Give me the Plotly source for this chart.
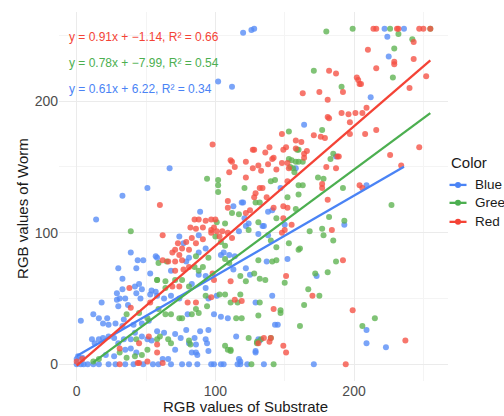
import plotly.graph_objects as go

# ---- data ----
red_x = [98,111,112,114,110,122,122,127,127,
         214,216,231,232,247,250,255,
         243,210,229,229,243,216,252,240,202,203,204,205,182,187,192,175,163,181,
         191,196,201,206,209,181,182,197,
         148,171,176,179,197,208,216,
         158,162,151,149,139,136,142,141,138,144,148,152,153,131,128,133,158,164,166,164,
         180,187,188,189,234,247,226,
         152,177,177,204,206,181,132,134,137,129,128,
         184,192,151,170,142,199,237,135,131,149,151,194,149,152,149,155,150,148,142,
         38,
         60,109,109,122,125,85,88,93,97,100,82,86,91,97,99,101,105,109,97,103,62,73,79,83,86,91,112,
         71,76,81,69,74,62,66,71,76,77,81,71,98,99,111,69,74,
         39,53,31,45,52,31,45,51,4,0,
         80,86,97,114,119,58,58,
         44,62,140,139]
red_y = [167,155,154,150,146,154,142,163,149,
         255,255,255,255,255,255,255,
         245,239,230,228,232,225,219,210,218,216,213,213,223,221,207,207,206,201,
         191,190,191,191,195,188,187,184,
         175,174,173,172,175,175,178,
         170,169,165,163,165,161,157,156,152,148,153,153,149,151,163,147,164,160,162,157,
         150,149,158,158,151,165,159,
         139,137,134,136,134,125,134,134,127,130,127,
         102,79,67,52,42,41,18,20,16,14,9,0,120,119,111,106,102,100,119,
         58,
         121,119,124,115,117,110,110,109,110,110,104,103,104,102,104,101,101,100,100,97,98,92,93,96,92,95,96,
         87,88,87,85,83,79,78,78,79,72,74,71,69,64,63,59,59,
         43,47,12,16,21,0,1,2,4,2,
         47,47,51,49,48,9,15,
         1,1,20,17]

green_x = [94,102,102,102,121,
           180,199,226,255,232,242,229,228,171,191,177,153,159,160,153,155,158,160,163,154,156,157,183,185,
           140,143,152,160,160,163,174,178,192,
           227,193,177,178,185,168,182,160,161,153,144,141,144,131,187,181,172,150,132,136,128,167,175,164,
           132,147,147,131,215,206,161,130,140,142,158,144,131,140,129,132,
           39,58,
           112,117,101,107,100,104,107,124,86,95,107,110,65,59,85,88,91,71,76,64,58,118,122,64,81,
           36,45,51,43,31,36,42,47,51,16,12,
           93,103,107,118,111,116,94,86,88,83,74,76,64,68,59,115,119,81,82,66,68,60,58,107,111,
           126,109,111,124,130,133]
green_y = [141,140,136,131,134,
           253,255,255,255,251,247,240,218,223,211,178,177,163,163,156,155,154,154,154,150,149,146,156,160,
           139,140,127,129,136,136,142,141,134,
           121,109,103,98,94,101,112,87,88,92,89,78,79,79,78,70,69,62,65,64,69,57,52,45,
           47,41,39,37,35,29,29,16,20,0,118,111,108,94,123,123,
           101,64,
           115,114,108,107,97,93,90,102,82,81,80,77,78,77,74,71,74,64,64,63,64,67,63,58,59,
           38,39,35,19,9,5,6,7,11,4,2,
           52,53,53,53,47,47,44,42,39,38,35,35,38,38,42,35,35,18,15,19,16,21,19,14,10,
           0,11,11,20,17,19]

blue_x = [120,126,102,112,67,51,33,
          128,222,236,224,225,212,164,158,187,147,209,
          193,152,137,173,141,129,209,209,223,143,145,131,132,129,135,171,138,141,150,134,135,131,138,
          14,39,44,48,30,43,53,33,57,45,42,33,47,54,
          89,113,119,120,121,124,74,77,88,117,122,88,93,104,106,110,114,68,58,79,81,88,93,113,122,125,83,93,
          3,18,29,31,35,30,29,37,43,46,53,57,12,16,22,19,23,28,34,33,41,47,52,
          11,13,16,19,23,27,30,34,39,42,47,51,54,0,0,3,5,8,12,16,23,28,35,41,48,55,1,4,35,39,43,27,21,
          58,63,68,74,95,101,80,99,104,109,79,95,89,93,94,71,75,63,58,85,81,86,83,86,87,95,115,71,66,62,
          59,68,76,81,87,97,99,104,106,116,118,123,117,118,129]
blue_y = [252,254,215,211,149,134,128,
          255,255,255,249,234,203,182,149,158,134,136,
          106,80,78,67,52,47,26,16,13,30,30,19,18,9,0,0,116,117,106,105,105,99,98,
          110,85,79,79,73,73,69,65,82,61,59,57,57,56,
          116,120,123,123,111,107,97,92,98,101,105,85,88,83,85,83,82,71,81,78,81,68,67,72,73,68,61,58,
          33,47,49,50,50,44,54,45,54,50,53,55,38,35,35,31,30,31,34,29,30,31,33,
          19,16,19,20,21,20,16,19,19,24,21,19,18,4,0,0,0,0,0,0,0,0,0,0,0,0,6,5,11,12,9,6,7,
          52,50,52,50,50,52,38,38,36,35,26,26,25,19,16,23,20,24,25,20,16,15,9,9,7,10,21,11,4,4,
          0,0,0,0,0,0,0,0,0,0,0,0,4,2,10]

series_names = ["Blue", "Green", "Red"]
slopes = [0.61, 0.78, 0.91]
intercepts = [6.22, -7.99, -1.14]
equations = ["y = 0.61x + 6.22, R² = 0.34",
             "y = 0.78x + −7.99, R² = 0.54",
             "y = 0.91x + −1.14, R² = 0.66"]
eq_y = [209, 229, 249]
tick_vals = [0, 100, 200]
legend_title = "Color"

colors = {"Blue": "#4A83F5", "Green": "#4CAF50", "Red": "#F44336"}
pt_colors = {"Blue": "rgba(84,138,246,0.78)", "Green": "rgba(92,178,80,0.78)", "Red": "rgba(245,80,66,0.78)"}

data = {"Blue": (blue_x, blue_y), "Green": (green_x, green_y), "Red": (red_x, red_y)}

FONT = "Liberation Sans, Arial, Helvetica, sans-serif"
fig = go.Figure()

for name in series_names:
    xs, ys = data[name]
    fig.add_trace(go.Scatter(x=xs, y=ys, mode="markers", name=name, showlegend=False,
                             marker=dict(size=6, color=pt_colors[name], line=dict(width=0)),
                             hoverinfo="skip"))

for i, name in enumerate(series_names):
    xs, _ = data[name]
    x0, x1 = min(xs), max(xs)
    fig.add_trace(go.Scatter(x=[x0, x1], y=[slopes[i] * x0 + intercepts[i], slopes[i] * x1 + intercepts[i]],
                             mode="lines", showlegend=False,
                             line=dict(color=colors[name], width=2.3), hoverinfo="skip"))

for i, name in enumerate(series_names):
    fig.add_annotation(x=-6.7, y=eq_y[i], xref="x", yref="y", text=equations[i],
                       showarrow=False, xanchor="left", yanchor="middle",
                       font=dict(family=FONT, size=12, color=colors[name]))

# hand-drawn legend keys (ggplot style: short line with a dot)
leg_y = [0.5314, 0.4828, 0.4313]
for i, name in enumerate(series_names):
    fig.add_shape(type="line", xref="paper", yref="paper", x0=1.0039, x1=1.0476,
                  y0=leg_y[i], y1=leg_y[i], line=dict(color=colors[name], width=2.3))
    fig.add_shape(type="circle", xref="paper", yref="paper", xsizemode="pixel", ysizemode="pixel",
                  xanchor=1.0257, yanchor=leg_y[i], x0=-3, x1=3, y0=-3, y1=3,
                  fillcolor=colors[name], line=dict(width=0))
    fig.add_annotation(x=1.063, y=leg_y[i], xref="paper", yref="paper", text=name,
                       showarrow=False, xanchor="left", yanchor="middle",
                       font=dict(family=FONT, size=13.5, color="#1a1a1a"))

fig.add_annotation(x=1.0013, y=0.591, xref="paper", yref="paper", text=legend_title,
                   showarrow=False, xanchor="left", yanchor="middle",
                   font=dict(family=FONT, size=15, color="#1a1a1a"))
fig.add_annotation(x=0.479, y=-0.069, xref="paper", yref="paper", text="RGB values of Substrate",
                   showarrow=False, xanchor="center", yanchor="middle",
                   font=dict(family=FONT, size=15, color="#1a1a1a"))
fig.add_annotation(x=-0.0927, y=0.469, xref="paper", yref="paper", text="RGB values of Worm",
                   showarrow=False, xanchor="center", yanchor="middle", textangle=-90,
                   font=dict(family=FONT, size=15, color="#1a1a1a"))

axis_common = dict(range=[-12.75, 267.75], tickvals=tick_vals, showgrid=True,
                   gridcolor="#EBEBEB", gridwidth=1.1, zeroline=False, showline=False, ticks="",
                   tickfont=dict(family=FONT, size=14, color="#4D4D4D"),
                   minor=dict(dtick=50, tick0=0, showgrid=True, gridcolor="#F4F4F4", gridwidth=0.6))

fig.update_layout(
    width=504, height=416,
    margin=dict(l=59, r=56, t=12, b=35, autoexpand=False),
    paper_bgcolor="white", plot_bgcolor="white",
    xaxis=axis_common, yaxis=axis_common,
    showlegend=False,
    font=dict(family=FONT),
)

fig.write_html("out.html", config={"displayModeBar": False},
               post_script="document.body.style.margin='0px';")
